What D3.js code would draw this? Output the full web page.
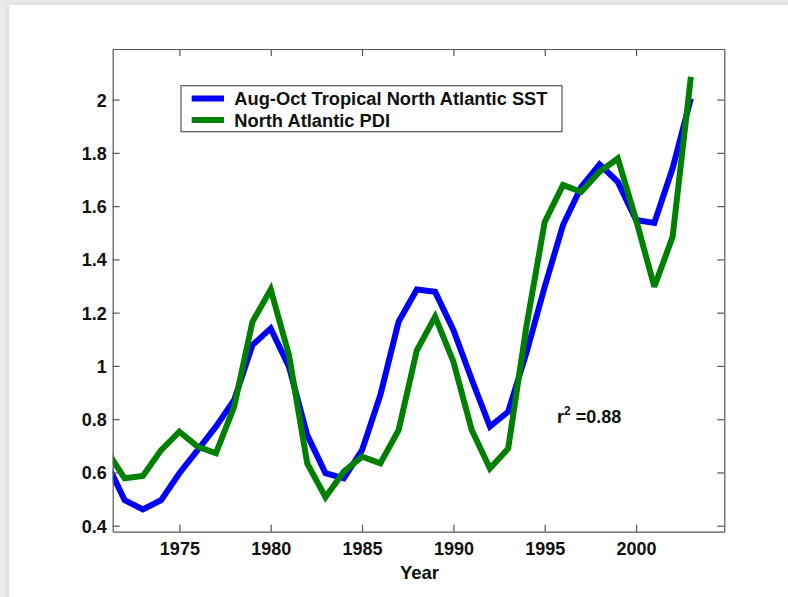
<!DOCTYPE html>
<html>
<head>
<meta charset="utf-8">
<script src="https://cdn.jsdelivr.net/npm/d3@7"></script>
<style>
  html, body { margin: 0; padding: 0; background: #ececec; }
  svg { display: block; }
  text { font-family: Arial, "Liberation Sans", Helvetica, sans-serif; font-weight: bold; fill: #111; }
</style>
</head>
<body>
<script>
// Annual series, 1971-2003
const years = d3.range(1971, 2004);
const sst = [0.64, 0.496, 0.461, 0.496, 0.597, 0.684, 0.772, 0.872, 1.078, 1.141,
             0.997, 0.74, 0.597, 0.578, 0.684, 0.89, 1.166, 1.287, 1.278, 1.135,
             0.95, 0.772, 0.828, 1.05, 1.297, 1.529, 1.672, 1.757, 1.691, 1.548,
             1.537, 1.742, 2.004];
const pdi = [0.685, 0.578, 0.587, 0.684, 0.753, 0.697, 0.672, 0.847, 1.166, 1.287,
             1.04, 0.634, 0.507, 0.603, 0.659, 0.634, 0.759, 1.059, 1.185, 1.016,
             0.76, 0.615, 0.69, 1.15, 1.541, 1.679, 1.654, 1.729, 1.779, 1.548,
             1.297, 1.485, 2.085];
const xTicks = [1975, 1980, 1985, 1990, 1995, 2000];
const yTicks = [0.4, 0.6, 0.8, 1, 1.2, 1.4, 1.6, 1.8, 2];
const seriesNames = ["Aug-Oct Tropical North Atlantic SST", "North Atlantic PDI"];
const seriesColors = ["#0000ff", "#008000"];
const correlationText = "0.88";

const W = 788, H = 597;
const svg = d3.select("body").append("svg").attr("width", W).attr("height", H);

// page panel with soft shadow
const defs = svg.append("defs");
const f = defs.append("filter").attr("id", "shadow").attr("x", "-10%").attr("y", "-10%").attr("width", "120%").attr("height", "120%");
f.append("feGaussianBlur").attr("stdDeviation", 3);
svg.append("rect").attr("width", W).attr("height", H).attr("fill", "#ececec");
svg.append("rect").attr("x", 8).attr("y", 4).attr("width", W).attr("height", H)
  .attr("fill", "#d6d6d6").attr("filter", "url(#shadow)");
svg.append("rect").attr("x", 9).attr("y", 5).attr("width", W).attr("height", H).attr("fill", "#ffffff");

// axes box
const plotL = 112.7, plotR = 724.3, plotT = 49, plotB = 531.7;
const x = d3.scaleLinear().domain([1971.35, 2004.83]).range([plotL, plotR]);
const y = d3.scaleLinear().domain([0.3775, 2.19]).range([plotB, plotT]);

defs.append("clipPath").attr("id", "plotclip")
  .append("rect").attr("x", plotL).attr("y", plotT).attr("width", plotR - plotL).attr("height", plotB - plotT);

const g = svg.append("g");

// series lines
const line = d3.line().x((d, i) => x(years[i])).y(d => y(d));
[sst, pdi].forEach((vals, k) => {
  g.append("path")
    .datum(vals)
    .attr("clip-path", "url(#plotclip)")
    .attr("d", line)
    .attr("fill", "none")
    .attr("stroke", seriesColors[k])
    .attr("stroke-width", 6)
    .attr("stroke-linejoin", "miter")
    .attr("stroke-miterlimit", 3)
    .attr("stroke-linecap", "butt");
});

// axes (ticks point inward, box on all four sides)
const tickLen = 7;
const axisColor = "#555";
const axB = svg.append("g").attr("transform", `translate(0,${plotB})`)
  .call(d3.axisBottom(x).tickValues(xTicks).tickSizeInner(-tickLen).tickSizeOuter(0).tickPadding(10.5).tickFormat(d3.format("d")));
const axT = svg.append("g").attr("transform", `translate(0,${plotT})`)
  .call(d3.axisTop(x).tickValues(xTicks).tickSizeInner(-tickLen).tickSizeOuter(0).tickFormat(""));
const axL = svg.append("g").attr("transform", `translate(${plotL},0)`)
  .call(d3.axisLeft(y).tickValues(yTicks).tickSizeInner(-tickLen).tickSizeOuter(0).tickPadding(6).tickFormat(d => d3.format("")(d)));
const axR = svg.append("g").attr("transform", `translate(${plotR},0)`)
  .call(d3.axisRight(y).tickValues(yTicks).tickSizeInner(-tickLen).tickSizeOuter(0).tickFormat(""));
[axB, axT, axL, axR].forEach(a => {
  a.select(".domain").attr("stroke", axisColor).attr("stroke-width", 1.2);
  a.selectAll(".tick line").attr("stroke", axisColor).attr("stroke-width", 1.2);
  a.selectAll("text").attr("font-size", 18).attr("font-family", null).attr("fill", "#111");
});
axL.selectAll(".tick text").attr("dy", "0.36em");
axB.selectAll(".tick text").attr("dy", "0.71em");

// x axis title
svg.append("text").attr("x", (plotL + plotR) / 2 + 1).attr("y", 578.5)
  .attr("text-anchor", "middle").attr("font-size", 18.5).text("Year");

// legend
const lg = svg.append("g");
lg.append("rect").attr("x", 181).attr("y", 85.7).attr("width", 381).attr("height", 46)
  .attr("fill", "#fff").attr("stroke", axisColor).attr("stroke-width", 1.2);
seriesNames.forEach((name, k) => {
  const cy = 98.5 + k * 21.5;
  lg.append("line").attr("x1", 191.7).attr("x2", 224).attr("y1", cy).attr("y2", cy)
    .attr("stroke", seriesColors[k]).attr("stroke-width", 6);
  lg.append("text").attr("x", 234.3).attr("y", cy).attr("dy", "0.36em")
    .attr("font-size", 18.3).text(name);
});

// correlation annotation
const rt = svg.append("text").attr("x", 557).attr("y", 422.5).attr("font-size", 18);
rt.append("tspan").text("r");
rt.append("tspan").attr("dy", -8).attr("font-size", 12).text("2");
rt.append("tspan").attr("dy", 8).text(" =" + correlationText);
</script>
</body>
</html>
